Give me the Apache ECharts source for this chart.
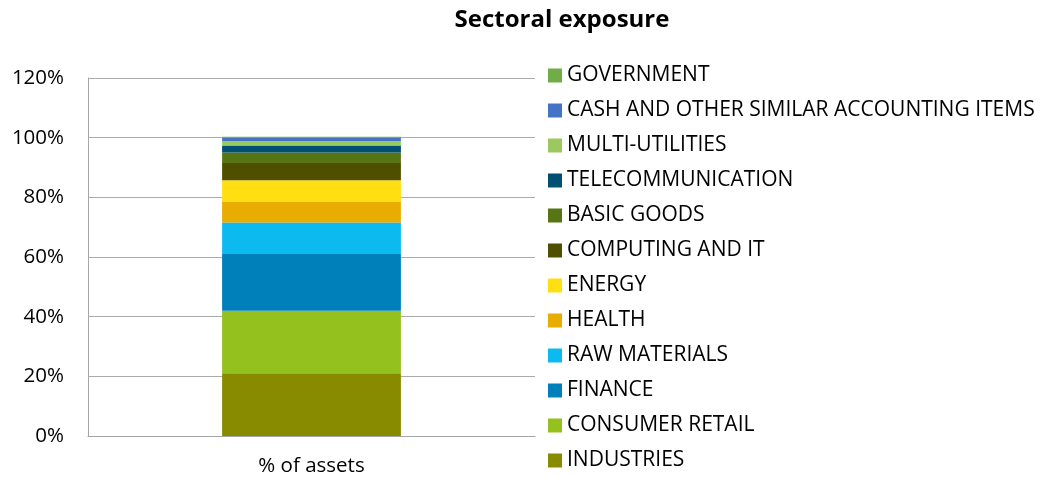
<!DOCTYPE html>
<html>
<head>
<meta charset="utf-8">
<script src="https://cdn.jsdelivr.net/npm/echarts@6/dist/echarts.min.js"></script>
<style>
  html, body { margin: 0; padding: 0; background: #fff; }
  #chart { width: 1048px; height: 477px; }
</style>
</head>
<body>
<div id="chart"></div>
<script>
// Stack order, bottom to top
const sectors = [
  'INDUSTRIES', 'CONSUMER RETAIL', 'FINANCE', 'RAW MATERIALS', 'HEALTH',
  'ENERGY', 'COMPUTING AND IT', 'BASIC GOODS', 'TELECOMMUNICATION',
  'MULTI-UTILITIES', 'CASH AND OTHER SIMILAR ACCOUNTING ITEMS', 'GOVERNMENT'
];
// Share of assets, percent
const weights = [21.0, 21.0, 19.0, 10.6, 7.0, 7.1, 5.8, 3.5, 2.4, 1.5, 1.1, 0.3];
const sectorColors = [
  '#888A00', '#95C11F', '#0080BA', '#0DBAF0', '#E8AD00',
  '#FFDE12', '#4F4F00', '#587516', '#005073',
  '#9BC95F', '#4472C4', '#70AD47'
];
const categories = ['% of assets'];
const yTicks = { min: 0, max: 120, interval: 20 };

const font = '"Open Sans", "Noto Sans", sans-serif';

const series = sectors.map((name, i) => ({
  name,
  type: 'bar',
  stack: 'total',
  barWidth: '40%',
  itemStyle: { color: sectorColors[i] },
  data: [weights[i]]
}));

const chart = echarts.init(document.getElementById('chart'), null, { renderer: 'canvas' });
chart.setOption({
  animation: false,
  title: {
    text: 'Sectoral exposure',
    left: 562,
    top: 8,
    padding: 0,
    textAlign: 'center',
    textStyle: { fontFamily: font, fontSize: 24, fontWeight: 'bold', color: '#000' }
  },
  legend: {
    orient: 'vertical',
    left: 548,
    top: 65,
    height: 420,
    padding: 0,
    data: sectors.slice().reverse(),
    icon: 'rect',
    itemWidth: 14,
    itemHeight: 14,
    itemGap: 14,
    textStyle: { fontFamily: font, fontSize: 21, color: '#000', lineHeight: 20 }
  },
  grid: { left: 88, right: 513, top: 78, bottom: 39 },
  xAxis: {
    type: 'category',
    data: categories,
    axisLine: { lineStyle: { color: '#A6A6A6' } },
    axisTick: { show: false },
    axisLabel: { fontFamily: font, fontSize: 20.5, color: '#000', margin: 20 }
  },
  yAxis: {
    type: 'value',
    min: yTicks.min,
    max: yTicks.max,
    interval: yTicks.interval,
    axisLine: { show: true, lineStyle: { color: '#A6A6A6' } },
    axisTick: { show: false },
    splitLine: { lineStyle: { color: '#ABABAB' } },
    axisLabel: { fontFamily: font, fontSize: 20.5, color: '#000', margin: 24, formatter: '{value}%' }
  },
  series
});
</script>
</body>
</html>
